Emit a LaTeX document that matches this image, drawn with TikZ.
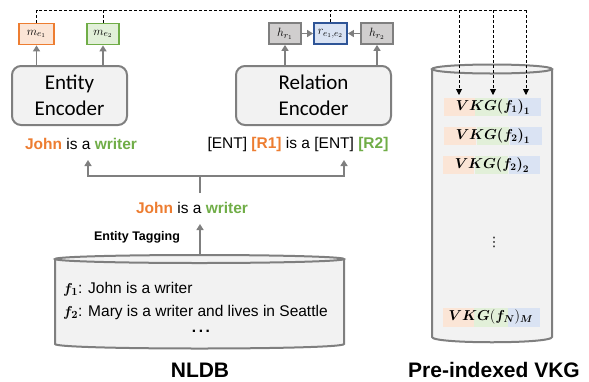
\documentclass[tikz,border=0pt]{standalone}
\usepackage{fontspec}
\setmainfont{Liberation Sans}
\newfontfamily\calibri{Carlito}
\newfontfamily\dejavu{DejaVu Sans}
\usepackage{amsmath}
\usepackage{bm}
\usetikzlibrary{arrows.meta}
\definecolor{orangeC}{HTML}{ED7D31}
\definecolor{orangeF}{HTML}{FBE5D6}
\definecolor{greenC}{HTML}{70AD47}
\definecolor{greenF}{HTML}{E2F0D9}
\definecolor{blueC}{HTML}{2F5597}
\definecolor{blueF}{HTML}{DAE3F3}
\definecolor{grayC}{HTML}{7F7F7F}
\definecolor{grayF}{HTML}{D0CECE}
\definecolor{lightF}{HTML}{F2F2F2}
\begin{document}
\begin{tikzpicture}[x=1pt,y=-1pt,
  smallbox/.style={draw, line width=1.8pt, inner sep=0pt, minimum height=21, font=\fontsize{13}{15}\selectfont},
  encbox/.style={draw=grayC, fill=lightF, line width=2pt, rounded corners=9pt, minimum height=59, align=center, font=\calibri\fontsize{21}{26}\selectfont},
  garrow/.style={draw=grayC, line width=1.8pt, -{Triangle[length=6pt,width=7pt]}},
  gline/.style={draw=grayC, line width=1.8pt},
  dline/.style={draw=black, line width=0.9pt, dash pattern=on 3pt off 2pt},
  darrow/.style={dline, -{Triangle[length=6pt,width=6pt]}},
  txt/.style={inner sep=0pt, font=\fontsize{15.5}{18}\selectfont},
  cyl/.style={draw=grayC, line width=2pt},
  vkg/.style={inner sep=0pt, font=\fontsize{14.5}{16}\selectfont},
  lbl/.style={inner sep=0pt, font=\bfseries\fontsize{21}{24}\selectfont}
]
\useasboundingbox (0,0) rectangle (589,381);

% encoders
\node[encbox, minimum width=115] (ent) at (69.5,95.5) {Entity\\Encoder};
\node[encbox, minimum width=155] (rel) at (313.5,95.5) {Relation\\Encoder};

% small boxes
\node[smallbox, draw=orangeC, fill=orangeF, minimum width=35] (me1) at (36.5,34) {$m_{e_1}$};
\node[smallbox, draw=greenC, fill=greenF, minimum width=32] (me2) at (103,34) {$m_{e_2}$};
\node[smallbox, draw=grayC, fill=grayF, minimum width=32] (hr1) at (285,33.5) {$h_{r_1}$};
\node[smallbox, draw=blueC, fill=blueF, minimum width=33] (rr) at (330.5,33.5) {$r_{e_1,e_2}$};
\node[smallbox, draw=grayC, fill=grayF, minimum width=32] (hr2) at (377,33.5) {$h_{r_2}$};

\draw[garrow] (ent.north -| me1.south) -- (me1.south);
\draw[garrow] (ent.north -| me2.south) -- (me2.south);
\draw[garrow] (rel.north -| hr1.south) -- (hr1.south);
\draw[garrow] (rel.north -| hr2.south) -- (hr2.south);
\draw[garrow] (hr1.east) -- (rr.west);
\draw[garrow] (hr2.west) -- (rr.east);

% texts
\node[txt] (jw1) at (81,144) {\textcolor{orangeC}{\textbf{John}} is a \textcolor{greenC}{\textbf{writer}}};
\node[txt] (entx) at (298,144) {[ENT] \textcolor{orangeC}{\textbf{[R1]}} is a [ENT] \textcolor{greenC}{\textbf{[R2]}}};
\node[txt] (jw2) at (192,208) {\textcolor{orangeC}{\textbf{John}} is a \textcolor{greenC}{\textbf{writer}}};
\node[inner sep=0pt, font=\bfseries\fontsize{12.5}{14}\selectfont] (tag) at (137,237) {Entity Tagging};

% tree
\coordinate (split) at (200,176);
\coordinate (stem) at (200,193);
\coordinate (a1) at (88,160);
\coordinate (a2) at (344,160);
\draw[gline] (stem) -- (split);
\draw[garrow] (split) -| (a1);
\draw[garrow] (split) -| (a2);
\coordinate (ntop) at (200,255);
\coordinate (tagtip) at (200,224);
\draw[garrow] (ntop) -- (tagtip);

% NLDB cylinder
\fill[lightF] (55,259) -- (55,344) .. controls (55,350) and (344,350) .. (344,344) -- (344,259) -- cycle;
\draw[cyl] (55,259) -- (55,344) .. controls (55,350) and (344,350) .. (344,344) -- (344,259);
\draw[cyl, fill=lightF] (199.5,259) ellipse [x radius=144.5pt, y radius=4pt];
\node[txt, anchor=west] (f1) at (63,289) {$\bm{f_1}$: John is a writer};
\node[txt, anchor=west] (f2) at (63,312) {$\bm{f_2}$: Mary is a writer and lives in Seattle};
\node[txt] (dots) at (201,331) {\textbf{.\,.\,.}};
\node[lbl] (nldb) at (200,370) {NLDB};

% VKG cylinder
\fill[lightF] (432,69) -- (432,337) .. controls (432,344) and (552,344) .. (552,337) -- (552,69) -- cycle;
\draw[cyl] (432,69) -- (432,337) .. controls (432,344) and (552,344) .. (552,337) -- (552,69);
\draw[cyl, fill=lightF] (492,69) ellipse [x radius=60pt, y radius=4.5pt];

\fill[orangeF] (444,98) rectangle (475,116);
\fill[greenF] (475,98) rectangle (508,116);
\fill[blueF] (508,98) rectangle (541,116);
\fill[orangeF] (444,127) rectangle (476,145);
\fill[greenF] (477,127) rectangle (509,145);
\fill[blueF] (510,127) rectangle (542,145);
\fill[orangeF] (443,156) rectangle (474,174);
\fill[greenF] (475,156) rectangle (508,174);
\fill[blueF] (509,156) rectangle (540,174);
\fill[orangeF] (443,308) rectangle (474,327);
\fill[greenF] (474,308) rectangle (508,327);
\fill[blueF] (508,308) rectangle (540,327);

\node[vkg] (v1) at (493,107) {$\bm{VKG(f_1)_1}$};
\node[vkg] (v2) at (493,136) {$\bm{VKG(f_2)_1}$};
\node[vkg] (v3) at (492,165) {$\bm{VKG(f_2)_2}$};
\node[inner sep=0pt, font=\dejavu\fontsize{13}{15}\selectfont] (vd) at (494,242) {⋮};
\node[vkg] (v4) at (491,317) {$\bm{VK}\bm{G}(\bm{f_N})_{\bm{M}}$};
\node[lbl] (pvkg) at (494,370) {Pre-indexed VKG};

% dashed connectors
\coordinate (tr) at (526,10);
\coordinate (t1) at (459,95);
\coordinate (t2) at (493,95);
\coordinate (t3) at (526,95);
\draw[dline] (me1.north) |- (tr);
\draw[dline] (me2.north) -- (me2.north |- tr);
\draw[dline] (rr.north) -- (rr.north |- tr);
\draw[darrow] (t1 |- tr) -- (t1);
\draw[darrow] (t2 |- tr) -- (t2);
\draw[darrow] (tr) -- (t3);
\end{tikzpicture}
\end{document}
